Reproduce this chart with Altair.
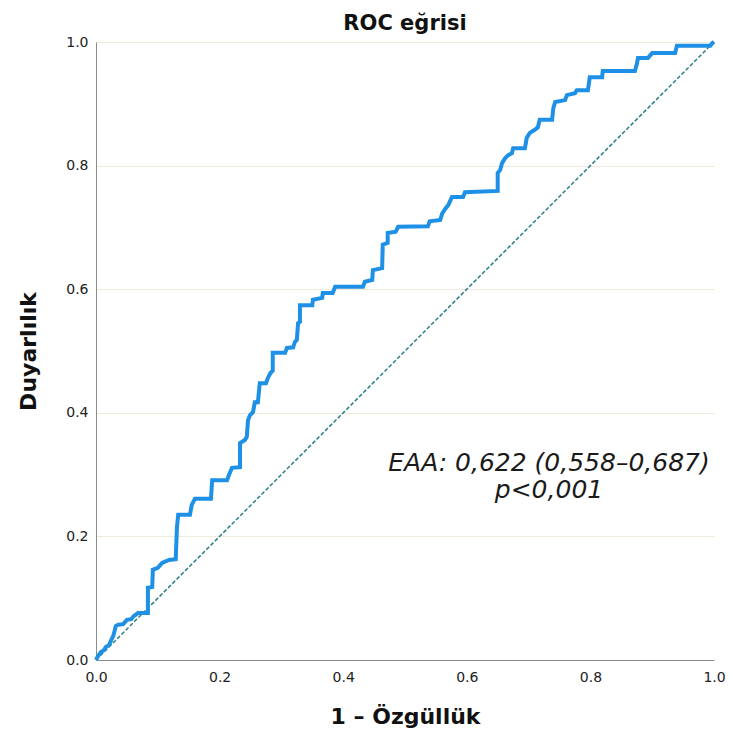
import altair as alt
import pandas as pd

# ROC curve points (1 - specificity, sensitivity)
fpr = [0.000, 0.003, 0.008, 0.013, 0.016, 0.021, 0.024, 0.028, 0.032, 0.036,
       0.044, 0.050, 0.057, 0.061, 0.068, 0.084, 0.084, 0.091, 0.092, 0.100,
       0.107, 0.118, 0.129, 0.131, 0.133, 0.152, 0.155, 0.160, 0.186, 0.188,
       0.212, 0.215, 0.220, 0.233, 0.233, 0.241, 0.244, 0.246, 0.249, 0.254,
       0.257, 0.262, 0.265, 0.275, 0.278, 0.282, 0.286, 0.286, 0.306, 0.309,
       0.319, 0.322, 0.325, 0.327, 0.330, 0.330, 0.350, 0.351, 0.366, 0.367,
       0.383, 0.387, 0.432, 0.435, 0.447, 0.448, 0.463, 0.464, 0.472, 0.472,
       0.485, 0.489, 0.537, 0.540, 0.557, 0.560, 0.565, 0.570, 0.576, 0.594,
       0.597, 0.650, 0.650, 0.654, 0.657, 0.662, 0.667, 0.673, 0.675, 0.694,
       0.697, 0.702, 0.710, 0.715, 0.718, 0.738, 0.740, 0.743, 0.759, 0.762,
       0.775, 0.778, 0.796, 0.799, 0.819, 0.820, 0.872, 0.875, 0.877, 0.893,
       0.900, 0.937, 0.940, 0.994, 0.997, 1.000]
tpr = [0.000, 0.006, 0.013, 0.016, 0.021, 0.024, 0.031, 0.039, 0.055, 0.057,
       0.058, 0.065, 0.066, 0.071, 0.076, 0.076, 0.117, 0.118, 0.146, 0.149,
       0.157, 0.162, 0.163, 0.215, 0.235, 0.235, 0.251, 0.261, 0.261, 0.291,
       0.291, 0.299, 0.311, 0.312, 0.351, 0.356, 0.361, 0.388, 0.396, 0.401,
       0.417, 0.417, 0.448, 0.448, 0.456, 0.464, 0.468, 0.497, 0.497, 0.505,
       0.506, 0.515, 0.518, 0.545, 0.547, 0.574, 0.574, 0.583, 0.586, 0.594,
       0.594, 0.604, 0.604, 0.612, 0.615, 0.631, 0.634, 0.672, 0.675, 0.691,
       0.693, 0.701, 0.702, 0.710, 0.712, 0.722, 0.730, 0.736, 0.749, 0.749,
       0.757, 0.759, 0.788, 0.793, 0.804, 0.812, 0.817, 0.820, 0.828, 0.828,
       0.845, 0.853, 0.858, 0.862, 0.874, 0.874, 0.893, 0.903, 0.906, 0.914,
       0.917, 0.922, 0.922, 0.943, 0.943, 0.953, 0.953, 0.964, 0.974, 0.974,
       0.982, 0.982, 0.994, 0.994, 0.998, 1.000]

ref_x = [0.0, 1.0]
ref_y = [0.0, 1.0]

tick_values = [0.0, 0.2, 0.4, 0.6, 0.8, 1.0]

ann_text = ["EAA: 0,622 (0,558–0,687)", "p<0,001"]
ann_x = [0.733, 0.733]
ann_y = [0.319, 0.275]

roc_df = pd.DataFrame({"fpr": fpr, "tpr": tpr, "idx": list(range(len(fpr)))})
ref_df = pd.DataFrame({"fpr": ref_x, "tpr": ref_y})
ann_df = pd.DataFrame({"text": ann_text, "x": ann_x, "y": ann_y})

xscale = alt.Scale(domain=[0, 1], nice=False)
yscale = alt.Scale(domain=[0, 1], nice=False)

common = dict(values=tick_values, format=".1f", ticks=False, labelFlush=False,
              labelFont="DejaVu Sans", labelFontSize=14, labelColor="#222",
              titleFont="DejaVu Sans", titleFontSize=22, titleFontWeight="bold",
              titleColor="#111", domainColor="#8c8c8c", domainWidth=1)

xaxis = alt.Axis(grid=False, labelPadding=10, title="1 – Özgüllük",
                 titlePadding=22, **common)
yaxis = alt.Axis(grid=True, gridColor="#EFEADB", gridWidth=1, labelPadding=8,
                 title="Duyarlılık", titlePadding=25, **common)

base = alt.Chart(roc_df).mark_line(color="#1E90E6", strokeWidth=4, strokeJoin="miter").encode(
    x=alt.X("fpr:Q", scale=xscale, axis=xaxis),
    y=alt.Y("tpr:Q", scale=yscale, axis=yaxis),
    order="idx:Q",
)

ref = alt.Chart(ref_df).mark_line(color="#2A7F80", strokeWidth=1.5, strokeDash=[4, 2]).encode(
    x=alt.X("fpr:Q", scale=xscale),
    y=alt.Y("tpr:Q", scale=yscale),
)

ann = alt.Chart(ann_df).mark_text(
    font="DejaVu Sans", fontSize=25, fontStyle="italic", color="#1a1a1a",
    align="center", baseline="middle"
).encode(
    x=alt.X("x:Q", scale=xscale),
    y=alt.Y("y:Q", scale=yscale),
    text="text:N",
)

chart = alt.layer(ref, base, ann).properties(
    width=618,
    height=618,
    background="white",
    title=alt.TitleParams("ROC eğrisi", fontSize=21, fontWeight="bold",
                          font="DejaVu Sans", color="#111", offset=0, anchor="middle"),
    autosize=alt.AutoSizeParams(type="none"),
    padding={"left": 96, "top": 42, "right": 17, "bottom": 82},
).configure_view(
    stroke=None
)

chart.save("out.html", embed_options={"renderer": "svg", "actions": False})
